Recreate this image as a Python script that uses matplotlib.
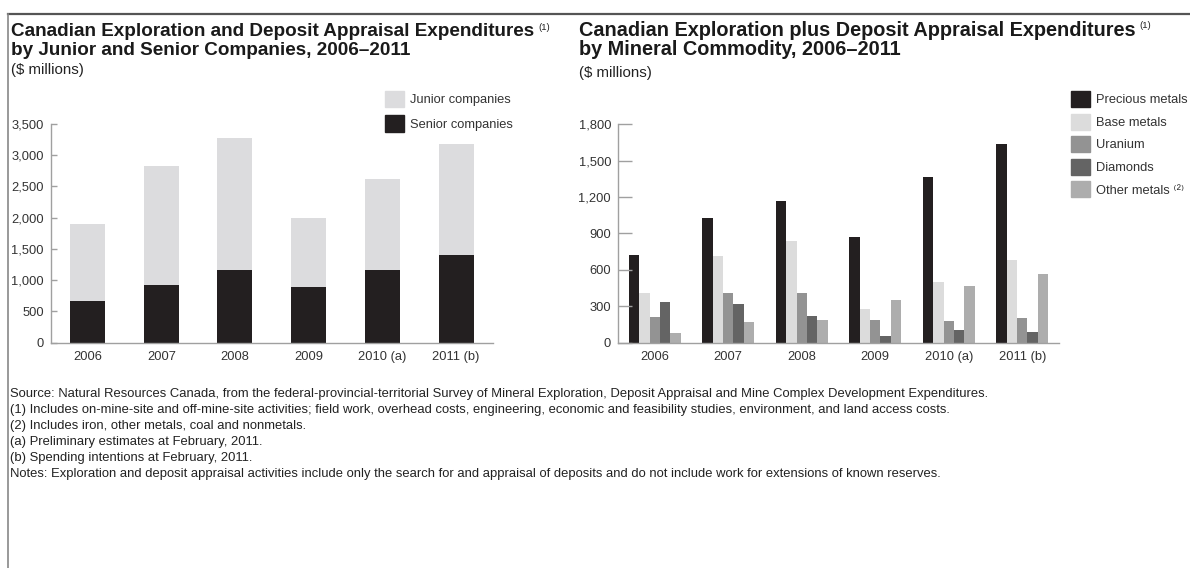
import numpy as np
import matplotlib
matplotlib.use("Agg")
import matplotlib.pyplot as plt
from matplotlib.lines import Line2D
from matplotlib.patches import Patch
from matplotlib.ticker import StrMethodFormatter

plt.rcParams['font.family'] = ['Liberation Sans', 'DejaVu Sans']

# ---- data ----
years = ["2006", "2007", "2008", "2009", "2010 (a)", "2011 (b)"]

senior = [670, 925, 1160, 885, 1170, 1405]
junior = [1230, 1905, 2115, 1105, 1450, 1780]

precious = [725, 1028, 1165, 871, 1368, 1640]
base = [412, 714, 841, 278, 500, 684]
uranium = [209, 412, 409, 187, 179, 206]
diamonds = [338, 319, 220, 58, 107, 88]
other = [82, 173, 187, 349, 467, 569]

commodity_labels = ["Precious metals", "Base metals", "Uranium", "Diamonds",
                    "Other metals \u207d\u00b2\u207e"]

left_yticks = np.arange(0, 3501, 500)
right_yticks = np.arange(0, 1801, 300)

footnotes = [
    "Source: Natural Resources Canada, from the federal-provincial-territorial Survey of Mineral Exploration, Deposit Appraisal and Mine Complex Development Expenditures.",
    "(1) Includes on-mine-site and off-mine-site activities; field work, overhead costs, engineering, economic and feasibility studies, environment, and land access costs.",
    "(2) Includes iron, other metals, coal and nonmetals.",
    "(a) Preliminary estimates at February, 2011.",
    "(b) Spending intentions at February, 2011.",
    "Notes: Exploration and deposit appraisal activities include only the search for and appraisal of deposits and do not include work for extensions of known reserves.",
]

BLACK = "#231f20"
LIGHT = "#dcdcde"
commodity_colors = [BLACK, "#dcdcdc", "#939393", "#646464", "#adadad"]
TXT = "#333333"
FS = 9.3  # tick / legend font size

W, H = 1190, 568
fig = plt.figure(figsize=(W / 100, H / 100), dpi=100)


def fx(px):
    return px / W


def fy(py):
    return 1 - py / H


def style_axes(ax, ticklen):
    for s in ["top", "right"]:
        ax.spines[s].set_visible(False)
    for s in ["left", "bottom"]:
        ax.spines[s].set_color("#a0a0a0")
        ax.spines[s].set_linewidth(1.0)
    ax.tick_params(axis="y", direction="in", length=ticklen, width=1.0,
                   color="#a0a0a0", labelsize=FS, labelcolor=TXT, pad=5)
    ax.tick_params(axis="x", length=0, labelsize=FS, labelcolor=TXT, pad=6)
    ax.yaxis.set_major_formatter(StrMethodFormatter("{x:,.0f}"))


def legend(handles, labels, x0, y0, spacing):
    fig.legend(handles, labels, loc="upper left",
               bbox_to_anchor=(fx(x0), fy(y0)), frameon=False, fontsize=FS,
               handlelength=1.5, handleheight=1.54, labelspacing=spacing,
               handletextpad=0.45, borderpad=0, borderaxespad=0,
               labelcolor=TXT)


# ---- left chart: stacked bars ----
ax1 = fig.add_axes([fx(50.7), fy(342.7), fx(493 - 50.7), (342.7 - 124) / H])
x = np.arange(len(years))
ax1.bar(x, senior, width=0.475, color=BLACK)
ax1.bar(x, junior, width=0.475, bottom=senior, color=LIGHT)
ax1.set_xlim(-0.5, len(years) - 0.5)
ax1.set_ylim(0, 3500)
ax1.set_yticks(left_yticks)
ax1.set_xticks(x)
ax1.set_xticklabels(years)
style_axes(ax1, 4)

legend([Patch(color=LIGHT), Patch(color=BLACK)],
       ["Junior companies", "Senior companies"], 385, 91, 0.65)

# ---- right chart: grouped bars ----
ax2 = fig.add_axes([fx(618), fy(342.7), fx(1059 - 618), (342.7 - 124.3) / H])
series = [precious, base, uranium, diamonds, other]
bw = 0.1413
for i, (vals, col) in enumerate(zip(series, commodity_colors)):
    ax2.bar(x + (i - 2) * bw, vals, width=bw, color=col)
ax2.set_xlim(-0.5, len(years) - 0.5)
ax2.set_ylim(0, 1800)
ax2.set_yticks(right_yticks)
ax2.set_xticks(x)
ax2.set_xticklabels(years)
style_axes(ax2, 10)

legend([Patch(color=c) for c in commodity_colors], commodity_labels,
       1071, 91, 0.5)


# ---- titles ----
def title_block(x0, lines, size, sub_base):
    t1 = fig.text(fx(x0), fy(36), lines[0], fontsize=size, fontweight="bold",
                  color="#1a1a1a", va="baseline", ha="left")
    fig.text(fx(x0), fy(55), lines[1], fontsize=size, fontweight="bold",
             color="#1a1a1a", va="baseline", ha="left")
    fig.text(fx(x0), fy(sub_base), "($ millions)", fontsize=10.8,
             color="#222222", va="baseline", ha="left")
    plt.annotate("(1)", xy=(1, 1), xycoords=t1, xytext=(3, 0),
                 textcoords="offset points", fontsize=6.8, color="#222222",
                 va="top", ha="left")


title_block(11, ["Canadian Exploration and Deposit Appraisal Expenditures",
                 "by Junior and Senior Companies, 2006\u20132011"], 13.6, 74)
title_block(579, ["Canadian Exploration plus Deposit Appraisal Expenditures",
                  "by Mineral Commodity, 2006\u20132011"], 14.3, 76.5)

# ---- footnotes ----
for i, line in enumerate(footnotes):
    fig.text(fx(10), fy(394 + 16 * i), line, fontsize=9.4, color="#222222",
             va="center", ha="left")

# ---- border ----
fig.add_artist(Line2D([fx(8), 1], [fy(14), fy(14)], color="#555555", lw=1.6))
fig.add_artist(Line2D([fx(8), fx(8)], [fy(14), 0], color="#888888", lw=1.2))

fig.savefig("out.png", dpi=100)
